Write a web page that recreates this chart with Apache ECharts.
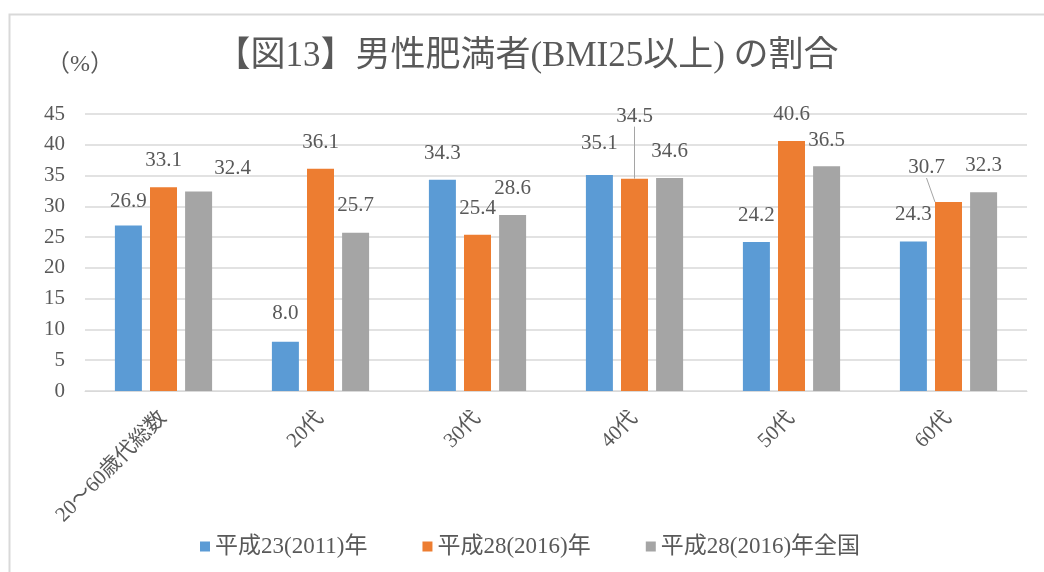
<!DOCTYPE html>
<html>
<head>
<meta charset="utf-8">
<script src="https://cdn.jsdelivr.net/npm/echarts@6/dist/echarts.min.js"></script>
<style>
  html, body { margin: 0; padding: 0; background: #fff; }
  #main { width: 1044px; height: 572px; }
</style>
</head>
<body>
<div id="main"></div>
<script>
const categories = ["20～60歳代総数", "20代", "30代", "40代", "50代", "60代"];
const seriesNames = ["平成23(2011)年", "平成28(2016)年", "平成28(2016)年全国"];
const h23 = [26.9, 8.0, 34.3, 35.1, 24.2, 24.3];
const h28 = [33.1, 36.1, 25.4, 34.5, 40.6, 30.7];
const h28all = [32.4, 25.7, 28.6, 34.6, 36.5, 32.3];
const yTicks = { min: 0, max: 45, interval: 5 };

const colors = ["#5B9BD5", "#ED7D31", "#A5A5A5"];
const textColor = "#595959";
const font = "'Liberation Serif', 'Noto Sans CJK JP', serif";

// label nudges (dx, dy) per series, per category
const labelNudge = [
  [[0, 3], [0, -2], [0, 0], [0, -5], [0, 0], [0, 0]],
  [[0, 1], [0, 0], [0, 0], [0, 0], [0, 0], [0, 0]],
  [[34, 3], [0, -1], [0, 0], [0, 0], [0, 1], [0, 0]],
];
// labels pulled away with a leader line (series 1)
const leader = { 3: { dx: 0, dy: -36 }, 5: { dx: -22, dy: -8 } };

const chartDom = document.getElementById("main");
const myChart = echarts.init(chartDom);

const makeSeries = (values, idx) => ({
  name: seriesNames[idx],
  type: "bar",
  barWidth: 27,
  barGap: "30%",
  itemStyle: { color: colors[idx] },
  label: {
    show: true,
    position: "top",
    distance: 16,
    color: textColor,
    fontFamily: font,
    fontSize: 21,
    formatter: (p) => p.value.toFixed(1),
  },
  labelLayout:
    idx === 1
      ? (p) => (leader[p.dataIndex] ? leader[p.dataIndex] : {})
      : undefined,
  data: values.map((v, i) => ({
    value: v,
    label: { offset: labelNudge[idx][i] },
    labelLine:
      idx === 1 && leader[i]
        ? { show: true, lineStyle: { color: "#A5A5A5", width: 1 } }
        : { show: false },
  })),
});

const option = {
  animation: false,
  backgroundColor: "#fff",
  graphic: [
    {
      type: "rect",
      left: 7,
      top: 12,
      shape: { width: 1100, height: 700 },
      style: { fill: "none", stroke: "#D9D9D9", lineWidth: 2 },
      silent: true,
    },
  ],
  title: {
    text: "【図13】男性肥満者(BMI25以上) の割合",
    left: 527,
    textAlign: "center",
    top: 39,
    padding: 0,
    textStyle: {
      color: textColor,
      fontFamily: font,
      fontSize: 35,
      fontWeight: "normal",
    },
  },
  legend: {
    bottom: 9,
    left: 195,
    width: 840,
    icon: "rect",
    itemWidth: 10,
    itemHeight: 10,
    itemGap: 55,
    textStyle: { color: textColor, fontFamily: font, fontSize: 23 },
    data: seriesNames,
  },
  grid: { left: 85, right: 17, top: 114, bottom: 181 },
  xAxis: {
    type: "category",
    data: categories,
    axisTick: { show: false },
    axisLine: { lineStyle: { color: "#D9D9D9", width: 1 } },
    axisLabel: {
      rotate: 45,
      margin: 24,
      color: textColor,
      fontFamily: font,
      fontSize: 21,
      interval: 0,
    },
  },
  yAxis: {
    type: "value",
    min: yTicks.min,
    max: yTicks.max,
    interval: yTicks.interval,
    name: "（%）",
    nameLocation: "end",
    nameGap: 37,
    nameTextStyle: {
      color: textColor,
      fontFamily: font,
      fontSize: 24,
      align: "center",
      padding: [0, 10, 0, 0],
    },
    axisLine: { show: false },
    axisTick: { show: false },
    splitLine: { lineStyle: { color: "#D9D9D9", width: 1.5 } },
    axisLabel: {
      margin: 20,
      color: textColor,
      fontFamily: font,
      fontSize: 21,
    },
  },
  series: [makeSeries(h23, 0), makeSeries(h28, 1), makeSeries(h28all, 2)],
};

myChart.setOption(option);

window.addEventListener("resize", () => {
  myChart.resize();
});
</script>
</body>
</html>
